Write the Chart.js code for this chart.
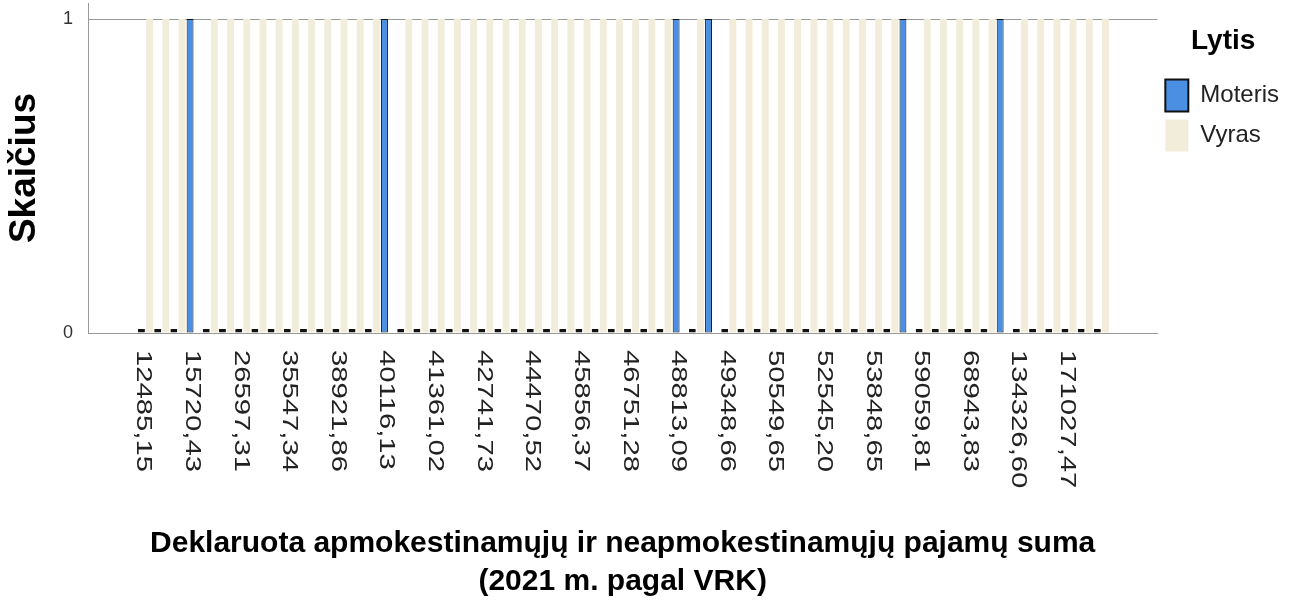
<!DOCTYPE html>
<html>
<head>
<meta charset="utf-8">
<script src="https://cdn.jsdelivr.net/npm/chart.js@4/dist/chart.umd.min.js"></script>
<style>
  html, body { margin: 0; padding: 0; background: #fff; }
  canvas { display: block; }
</style>
</head>
<body>
<canvas id="grafikas" width="1291" height="606"></canvas>
<script>
// kategorijos (pajamu sumos), kas 3-ia turi uzrasa
const kategorijos = [
  0, 1, 2, 3, 4, 5, 6, 7, 8, 9,
  10, 11, 12, 13, 14, 15, 16, 17, 18, 19,
  20, 21, 22, 23, 24, 25, 26, 27, 28, 29,
  30, 31, 32, 33, 34, 35, 36, 37, 38, 39,
  40, 41, 42, 43, 44, 45, 46, 47, 48, 49,
  50, 51, 52, 53, 54, 55, 56, 57, 58, 59
];
const zingsnis = 3;
const uzrasai = [
  '12485,15', '15720,43', '26597,31', '35547,34', '38921,86',
  '40116,13', '41361,02', '42741,73', '44470,52', '45856,37',
  '46751,28', '48813,09', '49348,66', '50549,65', '52545,20',
  '53848,65', '59059,81', '68943,83', '134326,60', '171027,47'
];
const moteris = [
  0, 0, 0, 1, 0, 0, 0, 0, 0, 0,
  0, 0, 0, 0, 0, 1, 0, 0, 0, 0,
  0, 0, 0, 0, 0, 0, 0, 0, 0, 0,
  0, 0, 0, 1, 0, 1, 0, 0, 0, 0,
  0, 0, 0, 0, 0, 0, 0, 1, 0, 0,
  0, 0, 0, 1, 0, 0, 0, 0, 0, 0
];
const vyras = [
  1, 1, 1, 0, 1, 1, 1, 1, 1, 1,
  1, 1, 1, 1, 1, 0, 1, 1, 1, 1,
  1, 1, 1, 1, 1, 1, 1, 1, 1, 1,
  1, 1, 1, 0, 1, 0, 1, 1, 1, 1,
  1, 1, 1, 1, 1, 1, 1, 0, 1, 1,
  1, 1, 1, 0, 1, 1, 1, 1, 1, 1
];

const sriftas = '"Liberation Sans", Arial, sans-serif';

// x asies uzrasai pasukti pagal laikrodzio rodykle
const xUzrasai = {
    id: 'xUzrasai',
    afterDraw(chart) {
        const sx = chart.scales.x;
        const ctx = chart.ctx;
        ctx.save();
        ctx.font = '22px ' + sriftas;
        ctx.fillStyle = '#222';
        ctx.textAlign = 'left';
        ctx.textBaseline = 'middle';
        uzrasai.forEach((t, k) => {
            const px = sx.getPixelForValue(k * zingsnis) - 2;
            ctx.save();
            ctx.translate(px, chart.chartArea.bottom + 17);
            ctx.scale(1, 1.33);
            ctx.rotate(Math.PI / 2);
            ctx.fillText(t, 0, 0);
            ctx.restore();
        });
        ctx.restore();
    }
};

new Chart(document.getElementById('grafikas'), {
    type: 'bar',
    data: {
        labels: kategorijos,
        datasets: [
            {
                label: 'Moteris',
                data: moteris,
                backgroundColor: '#4A8FE2',
                borderColor: '#111',
                borderWidth: c => c.raw === 0 ? 2 : 1,
                borderSkipped: false,
                minBarLength: 4,
                barPercentage: 0.85,
                categoryPercentage: 1
            },
            {
                label: 'Vyras',
                data: vyras,
                backgroundColor: '#F2ECDA',
                borderWidth: 0,
                barPercentage: 0.85,
                categoryPercentage: 1
            }
        ]
    },
    options: {
        responsive: false,
        animation: false,
        layout: { padding: { top: 3, right: 2, left: 0, bottom: 0 } },
        plugins: {
            legend: {
                position: 'right',
                align: 'start',
                title: {
                    display: true,
                    text: 'Lytis',
                    color: '#000',
                    font: { size: 28, weight: 'bold', family: sriftas },
                    padding: { top: 24, bottom: 11 }
                },
                labels: {
                    boxWidth: 23,
                    boxHeight: 32,
                    padding: 8,
                    color: '#222',
                    font: { size: 24, family: sriftas }
                }
            },
            tooltip: { enabled: false }
        },
        scales: {
            x: {
                type: 'linear',
                offset: false,
                min: -3.55,
                max: 62.45,
                grid: { display: false },
                border: { color: '#999' },
                ticks: { display: false },
                title: {
                    display: true,
                    text: ['Deklaruota apmokestinamųjų ir neapmokestinamųjų pajamų suma', '(2021 m. pagal VRK)'],
                    color: '#000',
                    font: { size: 30, weight: 'bold', family: sriftas, lineHeight: 1.27 },
                    padding: { top: 0, bottom: 5 }
                },
                afterFit: s => { s.height = 273; }
            },
            y: {
                min: 0,
                max: 1.051,
                ticks: {
                    stepSize: 1,
                    includeBounds: false,
                    padding: 15,
                    color: '#333',
                    font: { size: 18, family: sriftas }
                },
                grid: { color: '#999', drawTicks: false },
                border: { color: '#999' },
                title: {
                    display: true,
                    text: 'Skaičius',
                    color: '#000',
                    font: { size: 37, weight: 'bold', family: sriftas },
                    padding: { top: 3, bottom: 0 }
                },
                afterFit: s => {
                    s.width = 88;
                    s.paddingTop = 0;
                    s.paddingBottom = 0;
                }
            }
        }
    },
    plugins: [xUzrasai]
});
</script>
</body>
</html>
